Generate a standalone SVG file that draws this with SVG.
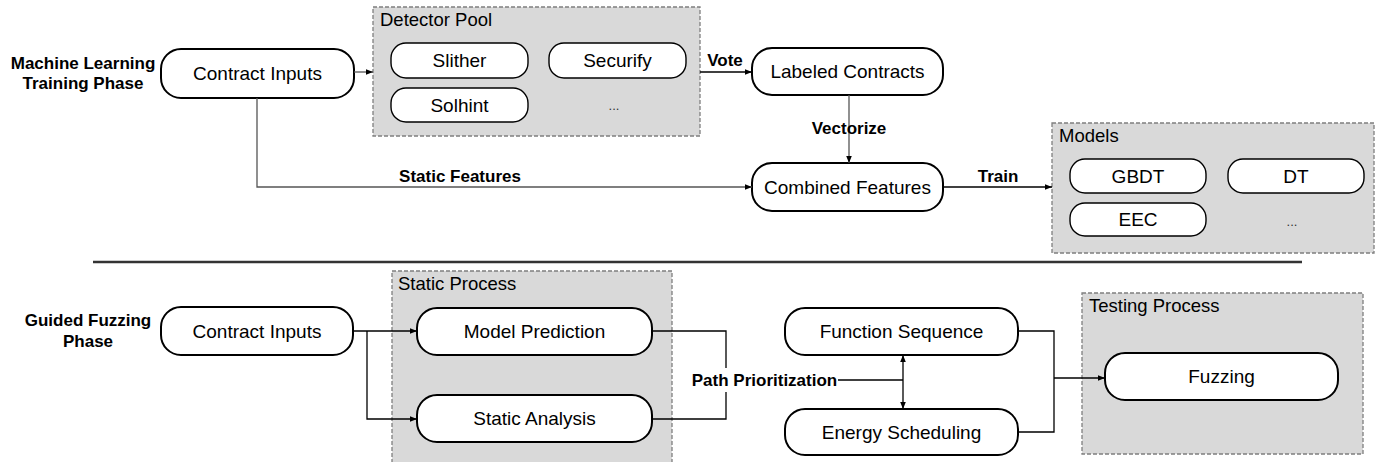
<svg xmlns="http://www.w3.org/2000/svg" width="1379" height="462" viewBox="0 0 1379 462">
<style>
.grp{fill:#d9d9d9;stroke:#7f7f7f;stroke-width:1.3;stroke-dasharray:4 2}
.node{fill:#fff;stroke:#000;stroke-width:2}
.sub{fill:#fff;stroke:#000;stroke-width:1.4}
.t{font-family:"Liberation Sans",Arial,sans-serif;font-size:19px;fill:#000;text-anchor:middle}
.gl{font-family:"Liberation Sans",Arial,sans-serif;font-size:18.5px;fill:#000}
.b{font-family:"Liberation Sans",Arial,sans-serif;font-size:17px;font-weight:bold;fill:#000;text-anchor:middle}
.dots{font-family:"Liberation Sans",Arial,sans-serif;font-size:13px;fill:#333;text-anchor:middle}
.c{fill:none;stroke:#000;stroke-width:1.3}
.cg{fill:none;stroke:#555;stroke-width:1.3}
</style>
<defs>
<marker id="ah" viewBox="0 0 10 10" refX="10" refY="5" markerWidth="7" markerHeight="7" orient="auto-start-reverse" markerUnits="userSpaceOnUse">
<path d="M0,1 L10,5 L0,9 z" fill="#000"/>
</marker>
</defs>

<!-- phase labels -->
<g id="label-ml">
<text class="b" x="83" y="69">Machine Learning</text>
<text class="b" x="83" y="89">Training Phase</text>
</g>
<g id="label-gf">
<text class="b" x="88" y="326">Guided Fuzzing</text>
<text class="b" x="88" y="347">Phase</text>
</g>

<!-- groups -->
<g id="detector-pool">
<rect class="grp" x="373" y="7" width="327" height="129"/>
<text class="gl" x="380" y="26">Detector Pool</text>
<g id="slither"><rect class="sub" x="391" y="43" width="137" height="35" rx="15"/><text class="t" x="459.5" y="67">Slither</text></g>
<g id="securify"><rect class="sub" x="549" y="43" width="137" height="35" rx="15"/><text class="t" x="617.5" y="67">Securify</text></g>
<g id="solhint"><rect class="sub" x="391" y="88" width="137" height="34" rx="15"/><text class="t" x="459.5" y="112">Solhint</text></g>
<text class="dots" x="614" y="110">...</text>
</g>

<g id="models">
<rect class="grp" x="1052" y="123" width="322" height="130"/>
<text class="gl" x="1059" y="142">Models</text>
<g id="gbdt"><rect class="sub" x="1070" y="159" width="136" height="34" rx="15"/><text class="t" x="1138" y="183">GBDT</text></g>
<g id="dt"><rect class="sub" x="1228" y="159" width="136" height="34" rx="15"/><text class="t" x="1296" y="183">DT</text></g>
<g id="eec"><rect class="sub" x="1070" y="203" width="136" height="33" rx="15"/><text class="t" x="1138" y="226">EEC</text></g>
<text class="dots" x="1292" y="226">...</text>
</g>

<g id="static-process">
<rect class="grp" x="392" y="271" width="280" height="200"/>
<text class="gl" x="398" y="290">Static Process</text>
</g>

<g id="testing-process">
<rect class="grp" x="1082" y="293" width="281" height="161"/>
<text class="gl" x="1089" y="312">Testing Process</text>
</g>

<!-- separator -->
<line x1="93" y1="262" x2="1302" y2="262" stroke="#333" stroke-width="2.5"/>

<!-- nodes -->
<g id="contract-inputs-1"><rect class="node" x="161" y="49" width="193" height="49" rx="20"/><text class="t" x="257.5" y="80">Contract Inputs</text></g>
<g id="labeled-contracts"><rect class="node" x="752" y="48" width="191" height="47" rx="20"/><text class="t" x="847.5" y="78">Labeled Contracts</text></g>
<g id="combined-features"><rect class="node" x="752" y="163" width="191" height="48" rx="20"/><text class="t" x="847.5" y="194">Combined Features</text></g>

<g id="contract-inputs-2"><rect class="node" x="161" y="307" width="192" height="48" rx="20"/><text class="t" x="257" y="338">Contract Inputs</text></g>
<g id="model-prediction"><rect class="node" x="417" y="308" width="235" height="47" rx="20"/><text class="t" x="534.5" y="338">Model Prediction</text></g>
<g id="static-analysis"><rect class="node" x="417" y="395" width="235" height="47" rx="20"/><text class="t" x="534.5" y="425">Static Analysis</text></g>
<g id="function-sequence"><rect class="node" x="785" y="308" width="233" height="47" rx="20"/><text class="t" x="901.5" y="338">Function Sequence</text></g>
<g id="energy-scheduling"><rect class="node" x="785" y="409" width="233" height="46" rx="20"/><text class="t" x="901.5" y="439">Energy Scheduling</text></g>
<g id="fuzzing"><rect class="node" x="1105" y="353" width="233" height="47" rx="20"/><text class="t" x="1221.5" y="383">Fuzzing</text></g>

<!-- connectors -->
<g id="connectors">
<path class="cg" d="M354,72 H373" marker-end="url(#ah)"/>
<path class="c" d="M700,72 H752" marker-end="url(#ah)"/>
<text class="b" x="725" y="66">Vote</text>
<path class="cg" d="M849,95 V163" marker-end="url(#ah)"/>
<text class="b" x="849" y="134">Vectorize</text>
<path class="cg" d="M257,98 V187 H752" marker-end="url(#ah)"/>
<text class="b" x="460" y="182">Static Features</text>
<path class="c" d="M943,187 H1052" marker-end="url(#ah)"/>
<text class="b" x="998" y="182">Train</text>

<path class="c" d="M353,331 H417" marker-end="url(#ah)"/>
<path class="c" d="M367,331 V419 H417" marker-end="url(#ah)"/>
<path class="c" d="M652,331 H726 V419 H652"/>
<rect x="690" y="368" width="149" height="24" fill="#fff"/>
<text class="b" x="764.5" y="386">Path Prioritization</text>
<path class="c" d="M838,380 H903"/>
<path class="c" d="M903,355 V409" marker-start="url(#ah)" marker-end="url(#ah)"/>
<path class="c" d="M1018,331 H1054 V432 H1018"/>
<path class="c" d="M1054,378 H1105" marker-end="url(#ah)"/>
</g>
</svg>
